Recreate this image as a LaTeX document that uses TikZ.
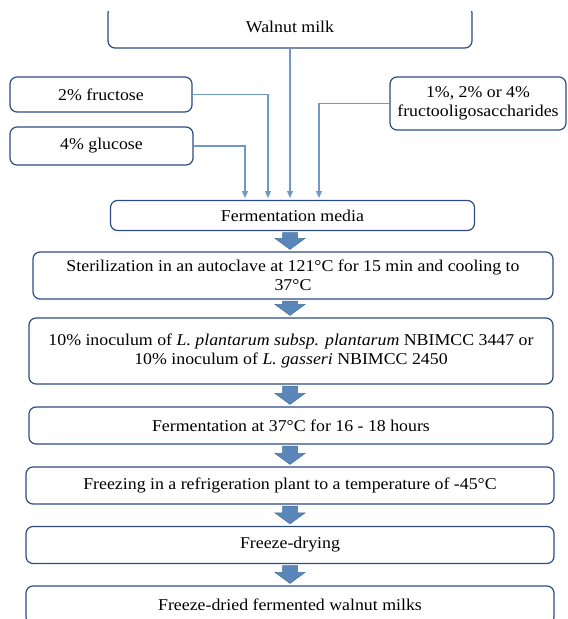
\documentclass[tikz,border=0pt]{standalone}
\usepackage{fontspec}
\setmainfont[FakeStretch=1.08]{Liberation Serif}
\usetikzlibrary{arrows.meta,calc}
\definecolor{boxedge}{HTML}{2F4B85}
\definecolor{thinarr}{HTML}{7398C6}
\definecolor{arrfill}{HTML}{5A86BA}
\definecolor{arredge}{HTML}{41719C}
\tikzset{
  box/.style={draw=boxedge, line width=1.2pt, rounded corners=7pt, fill=white,
    align=center, inner sep=2pt, font=\fontsize{16.5}{19.5}\selectfont},
  feed/.style={draw=thinarr, line width=1.3pt, -{Triangle[width=6pt,length=7pt]}},
  fat/.style={fill=arrfill, draw=arredge, line width=0.5pt}
}
\newcommand\blockarr[2]{%
  \path[fat] let \p1=(#1.south), \p2=(#2.north) in
  (282.5pt,\y1-1.5pt) -- (297.5pt,\y1-1.5pt) -- (297.5pt,\y2+13pt) -- (305pt,\y2+13pt)
  -- (290pt,\y2+2pt) -- (275pt,\y2+13pt) -- (282.5pt,\y2+13pt) -- cycle;}
\begin{document}
\begin{tikzpicture}[x=1pt,y=-1pt]
\useasboundingbox (0,0) rectangle (568,619);
\clip (0,0) rectangle (568,619);
\begin{scope}
  \clip (0,11) rectangle (568,619);
  \node[box, minimum width=364pt, minimum height=42pt] (walnut) at (290,27) {Walnut milk};
\end{scope}
\node[box, minimum width=182pt, minimum height=35pt] (fru) at (101,94.5) {2\% fructose};
\node[box, minimum width=183pt, minimum height=38pt] (glu) at (101.5,146) {4\% glucose};
\node[box, minimum width=176pt, minimum height=53pt] (fos) at (478,103.5) {1\%, 2\% or 4\%\\fructooligosaccharides};
\node[box, minimum width=364pt, minimum height=30pt] (media) at (292.5,215.5) {Fermentation media};
\node[box, minimum width=520pt, minimum height=47pt] (ster) at (293,275.5) {Sterilization in an autoclave at 121°C for 15 min and cooling to\\37°C};
\node[box, minimum width=524pt, minimum height=66pt] (inoc) at (291,351) {10\% inoculum of \textit{L. plantarum subsp. plantarum} NBIMCC 3447 or\\10\% inoculum of \textit{L. gasseri} NBIMCC 2450};
\node[box, minimum width=524pt, minimum height=37pt] (ferm) at (291,425.5) {Fermentation at 37°C for 16 - 18 hours};
\node[box, minimum width=528pt, minimum height=37pt] (frz) at (290,485.5) {Freezing in a refrigeration plant to a temperature of -45°C};
\node[box, minimum width=528pt, minimum height=37pt] (dry) at (290,545) {Freeze-drying};
\node[box, minimum width=528pt, minimum height=38pt] (fin) at (290,605) {Freeze-dried fermented walnut milks};
\coordinate (tg) at (245,198);
\coordinate (tf) at (268,198);
\coordinate (tw) at (290,198);
\coordinate (ts) at (319,198);
\draw[feed] (glu.east) -| (tg);
\draw[feed] (fru.east) -| (tf);
\draw[feed] (walnut.south) -- (tw);
\draw[feed] (fos.west) -| (ts);
\blockarr{media}{ster}
\blockarr{ster}{inoc}
\blockarr{inoc}{ferm}
\blockarr{ferm}{frz}
\blockarr{frz}{dry}
\blockarr{dry}{fin}
\end{tikzpicture}
\end{document}
